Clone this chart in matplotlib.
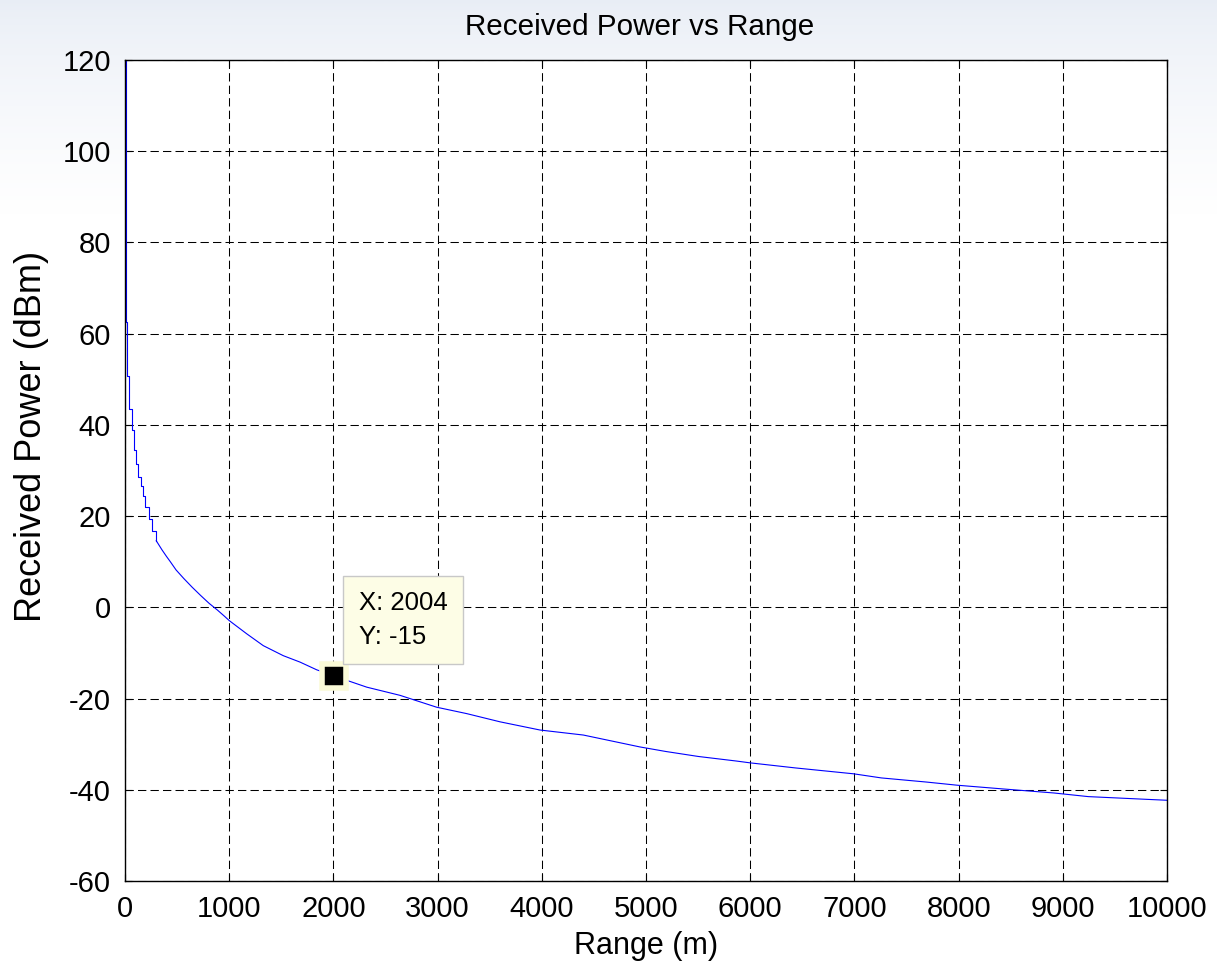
import numpy as np
import matplotlib
matplotlib.use("Agg")
import matplotlib.pyplot as plt

plt.rcParams['font.family'] = ['Liberation Sans', 'DejaVu Sans']

# Near-range staircase (range where level starts, level in dBm)
near_range = [0, 8, 16, 42, 65, 87, 106, 129, 152, 171, 194, 226, 258, 300]
near_power = [140, 62.6, 50.8, 43.5, 38.8, 34.4, 31.4, 28.5, 26.7, 24.5, 21.9,
              19.3, 16.8, 14.6]

# Mid / far range
far_range = [300, 355, 397, 435, 490, 565, 645, 726, 806, 887, 952, 1000,
             1168, 1327, 1519, 1679, 1840, 2004, 2128, 2320, 2640, 2991,
             3279, 3599, 3983, 4399, 4940, 5189, 5503, 5868, 6000, 6430, 6993,
             7258, 7689, 7987, 8417, 8914, 9245, 9808, 10000]
far_power = [14.6, 12.6, 11.2, 10.0, 8.2, 6.3, 4.4, 2.6, 0.9, -0.6, -1.9, -2.9,
             -5.8, -8.4, -10.6, -12.0, -13.7, -15.0, -16.0, -17.5, -19.3,
             -21.9, -23.3, -25.1, -26.9, -28.0, -30.6, -31.6, -32.7, -33.7,
             -34.1, -35.2, -36.5, -37.4, -38.3, -39.0, -39.8, -40.7, -41.5,
             -42.1, -42.3]

tip_x = 2004
tip_y = -15

xticks = [0, 1000, 2000, 3000, 4000, 5000, 6000, 7000, 8000, 9000, 10000]
yticks = [-60, -40, -20, 0, 20, 40, 60, 80, 100, 120]

W, H = 1217, 966
fig = plt.figure(figsize=(W / 100, H / 100), dpi=100)
fig.patch.set_facecolor('white')

# background gradient (slide-like)
bg = fig.add_axes([0, 0, 1, 1], zorder=-10)
n = 400
t = np.linspace(0, 1, n)
top = np.array([0.91, 0.93, 0.962])
bot = np.array([1.0, 1.0, 1.0])
prof = np.clip(t / 0.22, 0, 1) ** 0.7
grad = (top[None, :] * (1 - prof[:, None]) + bot[None, :] * prof[:, None])
img = np.repeat(grad[:, None, :], 2, axis=1)
bg.imshow(img, aspect='auto', extent=[0, 1, 0, 1], origin='upper')
bg.set_axis_off()

ax = fig.add_axes([125 / W, 1 - 881 / H, (1167 - 125) / W, (881 - 60) / H])
ax.set_facecolor('white')

ax.plot(near_range, near_power, color='#0000ff', lw=0.8, drawstyle='steps-post')
ax.plot(far_range, far_power, color='#0000ff', lw=0.8)

ax.set_xlim(0, 10000)
ax.set_ylim(-60, 120)
ax.set_xticks(xticks)
ax.set_yticks(yticks)
ax.set_xticklabels([str(v) for v in xticks])
ax.set_yticklabels([str(v) for v in yticks])

ax.grid(True, color='black', lw=0.75, linestyle=(0, (8, 4)))
ax.set_axisbelow(True)
ax.tick_params(direction='in', length=5, width=0.8, top=True, right=True,
               labelsize=21, pad=10)
for s in ax.spines.values():
    s.set_linewidth(1.0)
    s.set_color('black')

ax.set_title('Received Power vs Range', fontsize=21.3, pad=18, x=0.494)
ax.set_xlabel('Range (m)', fontsize=22, labelpad=6)
ax.set_ylabel('Received Power (dBm)', fontsize=26)
ax.yaxis.set_label_coords(-0.073, 0.541)

# data tip
ax.plot([tip_x], [tip_y], marker='s', ms=17, mfc='black', mec='#fbfbd8',
        mew=4, zorder=5)
ax.annotate('X: %d\nY: %d' % (tip_x, tip_y), xy=(tip_x, tip_y),
            xytext=(25, 27), textcoords='offset pixels', ha='left', va='bottom',
            fontsize=18.5, linespacing=1.5, zorder=6,
            bbox=dict(boxstyle='square,pad=0.6', fc='#fdfde6', ec='#c8c8c8', lw=1))

fig.savefig('out.png', dpi=100)
